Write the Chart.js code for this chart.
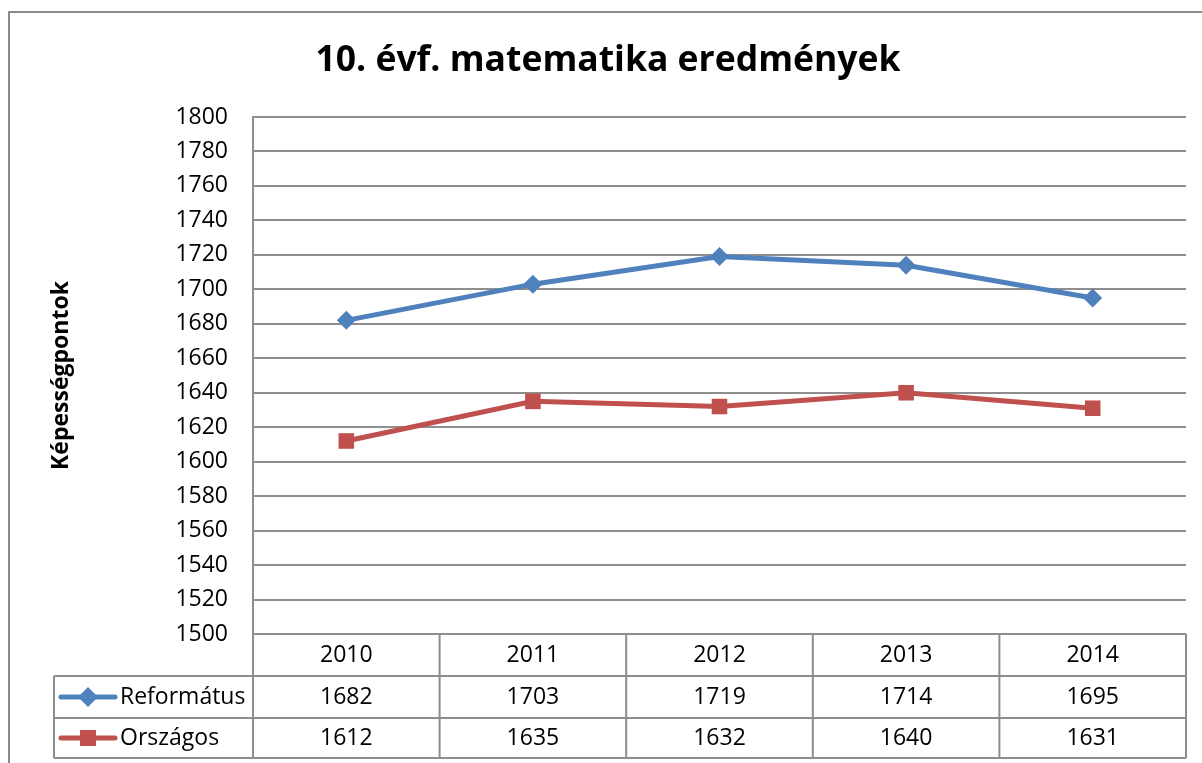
<!DOCTYPE html>
<html>
<head>
<meta charset="utf-8">
<script src="https://cdn.jsdelivr.net/npm/chart.js@4.4.1/dist/chart.umd.min.js"></script>
<style>
  html, body { margin: 0; padding: 0; background: #fff; overflow: hidden; }
  #wrap { position: relative; width: 1202px; height: 763px; }
  #frame { position: absolute; left: 8px; top: 11px; width: 1300px; height: 900px; border: 2px solid #8a8a8a; }
  canvas { position: absolute; left: 0; top: 0; }
</style>
</head>
<body>
<div id="wrap">
  <div id="frame"></div>
  <canvas id="myChart" width="1202" height="763"></canvas>
</div>
<script>
// chart data
var years = ['2010', '2011', '2012', '2013', '2014'];
var reformatus = [1682, 1703, 1719, 1714, 1695];
var orszagos = [1612, 1635, 1632, 1640, 1631];

var FONT = '"Open Sans", sans-serif';
var GRID = '#8e8e8e';

// draws the Excel-style data table under the plot
var dataTable = {
    id: 'dataTable',
    afterDraw: function(chart) {
        var ctx = chart.ctx;
        var xs = chart.scales.x;
        var area = chart.chartArea;
        var top = area.bottom;
        var rows = [top, top + 42, top + 84, top + 124];
        var legendLeft = 54;
        var step = (area.right - area.left) / years.length;

        ctx.save();
        ctx.strokeStyle = GRID;
        ctx.lineWidth = 2;
        ctx.beginPath();
        // horizontal lines
        ctx.moveTo(area.left, rows[0]); ctx.lineTo(area.right, rows[0]);
        for (var r = 1; r < rows.length; r++) {
            ctx.moveTo(legendLeft, rows[r]); ctx.lineTo(area.right, rows[r]);
        }
        // vertical lines
        for (var i = 0; i <= years.length; i++) {
            var vx = area.left + i * step;
            ctx.moveTo(vx, rows[0]); ctx.lineTo(vx, rows[3]);
        }
        ctx.moveTo(legendLeft, rows[1]); ctx.lineTo(legendLeft, rows[3]);
        ctx.stroke();

        ctx.fillStyle = '#000';
        ctx.font = '23px ' + FONT;
        ctx.textAlign = 'center';
        ctx.textBaseline = 'middle';
        var series = chart.data.datasets;
        series.forEach(function(ds, s) {
            var cy = (rows[s + 1] + rows[s + 2]) / 2;
            ds.data.forEach(function(v, j) {
                ctx.fillText(String(v), xs.getPixelForValue(j), cy);
            });
            // legend key
            ctx.strokeStyle = ds.borderColor;
            ctx.lineWidth = 5;
            ctx.lineCap = 'round';
            ctx.beginPath();
            ctx.moveTo(61, cy); ctx.lineTo(115, cy);
            ctx.stroke();
            ctx.fillStyle = ds.backgroundColor;
            ctx.beginPath();
            if (ds.pointStyle === 'rectRot') {
                ctx.moveTo(88, cy - 10); ctx.lineTo(98, cy); ctx.lineTo(88, cy + 10); ctx.lineTo(78, cy);
                ctx.closePath();
            } else {
                ctx.rect(80, cy - 8, 16, 16);
            }
            ctx.fill();
            ctx.fillStyle = '#000';
            ctx.textAlign = 'left';
            ctx.fillText(ds.label, 120, cy);
            ctx.textAlign = 'center';
        });
        ctx.restore();
    }
};

var ctx = document.getElementById('myChart').getContext('2d');
var myLineChart = new Chart(ctx, {
    type: 'line',
    data: {
        labels: years,
        datasets: [
            {
                label: 'Református',
                data: reformatus,
                borderColor: '#4F81BD',
                backgroundColor: '#4F81BD',
                borderWidth: 5,
                pointStyle: 'rectRot',
                pointRadius: 9.5,
                pointBorderWidth: 0,
                tension: 0,
                fill: false,
            },
            {
                label: 'Országos',
                data: orszagos,
                borderColor: '#C0504D',
                backgroundColor: '#C0504D',
                borderWidth: 5,
                pointStyle: 'rect',
                pointRadius: 11,
                pointBorderWidth: 0,
                tension: 0,
                fill: false,
            },
        ],
    },
    options: {
        responsive: false,
        animation: false,
        layout: { padding: { left: 30, right: 16, top: 0, bottom: 5 } },
        plugins: {
            legend: { display: false },
            tooltip: { enabled: false },
            title: {
                display: true,
                text: '10. évf. matematika eredmények',
                color: '#000',
                font: { family: FONT, size: 35.5, weight: 'bold', lineHeight: 1.2 },
                padding: { top: 40, bottom: 34.4 },
            },
        },
        scales: {
            x: {
                offset: true,
                grid: { display: false, drawTicks: false },
                border: { display: false },
                ticks: { color: '#000', font: { family: FONT, size: 23 }, padding: 8 },
                afterFit: function(scale) { scale.height = 124; },
            },
            y: {
                min: 1500,
                max: 1800,
                ticks: {
                    stepSize: 20, color: '#000', font: { family: FONT, size: 23 }, padding: 25,
                    callback: function(v) { return String(v); },
                },
                grid: { color: GRID, lineWidth: 2, drawTicks: false },
                border: { color: GRID, width: 2 },
                title: {
                    display: true,
                    text: 'Képességpontok',
                    color: '#000',
                    font: { family: FONT, size: 23, weight: 'bold' },
                    padding: { top: 18, bottom: 0 },
                },
                afterFit: function(scale) { scale.width = 253 - 30; },
            },
        },
    },
    plugins: [dataTable],
});
</script>
</body>
</html>
